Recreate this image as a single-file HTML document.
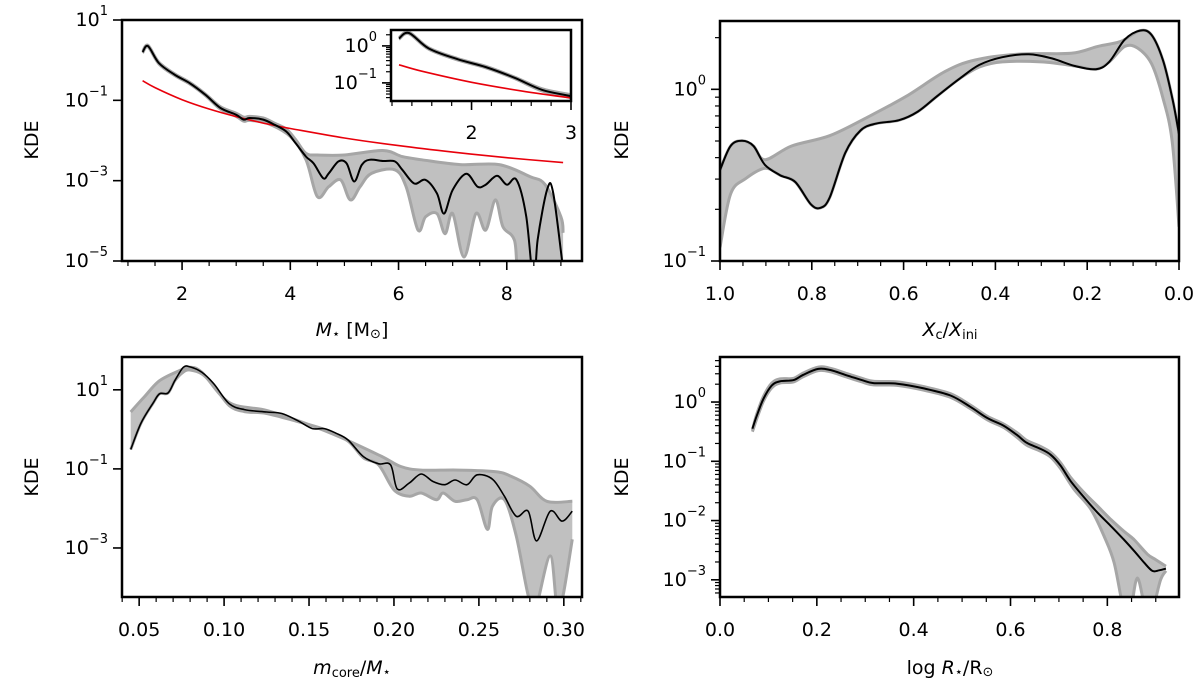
<!DOCTYPE html>
<html><head><meta charset="utf-8"><style>
html,body{margin:0;padding:0;background:#fff}
svg{display:block;font-family:"DejaVu Sans","Liberation Sans",sans-serif}
</style></head><body>
<svg id="fig" width="1200" height="688" viewBox="0 0 1200 688" xmlns="http://www.w3.org/2000/svg"></svg>
<script>
// ---------- Panel 1 data: stellar mass ----------
const p1BlackX=[1.27,1.37,1.57,1.86,2.14,2.43,2.71,3.0,3.14,3.25,3.5,3.71,3.93,4.1,4.29,4.43,4.61,4.71,4.89,5.04,5.18,5.32,5.46,5.71,5.93,6.07,6.29,6.5,6.71,6.84,7.0,7.25,7.46,7.61,7.82,8.0,8.18,8.36,8.5,8.57,8.75,8.86,9.04];
const p1BlackY=[0.2,0.35,-0.07,-0.36,-0.57,-0.86,-1.19,-1.36,-1.48,-1.44,-1.48,-1.61,-1.78,-2.07,-2.4,-2.57,-2.94,-2.82,-2.52,-2.57,-3.02,-2.61,-2.48,-2.51,-2.52,-2.73,-3.07,-2.98,-3.32,-3.82,-3.23,-2.83,-3.15,-3.1,-2.88,-3.1,-2.98,-3.9,-5.6,-4.48,-3.2,-3.32,-5.2];
const p1HiX=[1.27,1.37,1.57,1.86,2.14,2.43,2.71,3.0,3.14,3.25,3.5,3.71,3.93,4.1,4.29,4.5,5.0,5.71,6.07,6.43,7.14,7.86,8.43,8.71,9.0,9.04];
const p1HiY=[0.22,0.37,-0.05,-0.34,-0.55,-0.84,-1.16,-1.32,-1.42,-1.4,-1.44,-1.57,-1.72,-1.98,-2.32,-2.36,-2.36,-2.25,-2.4,-2.48,-2.6,-2.6,-2.9,-3.1,-3.9,-4.3];
const p1LoX=[1.27,1.37,1.57,1.86,2.14,2.43,2.71,3.0,3.14,3.25,3.57,4.0,4.29,4.5,4.71,4.93,5.11,5.29,5.5,5.93,6.14,6.36,6.5,6.71,6.86,7.0,7.21,7.43,7.61,7.79,7.93,8.14,8.29,9.04];
const p1LoY=[0.18,0.33,-0.09,-0.38,-0.59,-0.88,-1.22,-1.4,-1.52,-1.5,-1.57,-1.9,-2.48,-3.4,-3.15,-2.98,-3.48,-3.15,-2.82,-2.73,-3.15,-4.23,-3.9,-3.82,-4.32,-3.82,-4.9,-3.82,-4.23,-3.48,-4.15,-4.48,-5.5,-5.5];
const p1RedX=[1.27,1.5,2,2.5,3,3.5,4,5,6,7,8,9.04];
const p1RedY=[-0.51,-0.683,-0.983,-1.216,-1.405,-1.566,-1.7,-1.938,-2.128,-2.288,-2.428,-2.55];
const p1XTicks=[2,4,6,8];
const p1YTicks=[1,-1,-3,-5];
const insetXTicks=[2,3];
const insetYTicks=[0,-1];
// ---------- Panel 2 data: Xc/Xini ----------
const p2BlackX=[1.0,0.977,0.952,0.927,0.902,0.869,0.836,0.802,0.781,0.761,0.727,0.694,0.661,0.61,0.569,0.527,0.477,0.435,0.385,0.327,0.277,0.227,0.181,0.152,0.118,0.085,0.06,0.035,0.014,0.0];
const p2BlackY=[-0.47,-0.33,-0.30,-0.33,-0.44,-0.5,-0.54,-0.67,-0.69,-0.63,-0.37,-0.24,-0.2,-0.18,-0.13,-0.04,0.064,0.142,0.187,0.204,0.18,0.136,0.117,0.16,0.29,0.342,0.317,0.17,-0.06,-0.26];
const p2HiX=[1.0,0.977,0.952,0.927,0.902,0.844,0.761,0.677,0.594,0.51,0.444,0.344,0.235,0.177,0.135,0.118,0.085,0.06,0.035,0.014,0.0];
const p2HiY=[-0.47,-0.33,-0.30,-0.33,-0.41,-0.33,-0.27,-0.16,-0.04,0.103,0.171,0.206,0.21,0.25,0.272,0.29,0.342,0.317,0.17,-0.06,-0.26];
const p2LoX=[1.0,0.977,0.944,0.902,0.869,0.836,0.802,0.781,0.761,0.727,0.694,0.661,0.61,0.569,0.527,0.477,0.435,0.385,0.3,0.227,0.181,0.152,0.118,0.09,0.06,0.035,0.015,0.0];
const p2LoY=[-0.92,-0.61,-0.52,-0.46,-0.5,-0.54,-0.67,-0.69,-0.63,-0.37,-0.24,-0.2,-0.18,-0.13,-0.04,0.064,0.13,0.16,0.16,0.136,0.117,0.16,0.25,0.24,0.15,-0.05,-0.3,-0.8];
const p2XTicks=[1.0,0.8,0.6,0.4,0.2,0.0];
const p2XLabels=["1.0","0.8","0.6","0.4","0.2","0.0"];
const p2YTicks=[0,-1];
// ---------- Panel 3 data: m_core/M ----------
const p3BlackX=[0.045,0.051,0.058,0.062,0.067,0.071,0.076,0.08,0.087,0.094,0.103,0.112,0.125,0.134,0.143,0.152,0.159,0.166,0.173,0.182,0.191,0.198,0.202,0.209,0.216,0.223,0.23,0.236,0.243,0.249,0.258,0.265,0.272,0.279,0.284,0.292,0.299,0.305];
const p3BlackY=[-0.51,0.15,0.65,0.9,0.92,1.23,1.57,1.58,1.44,1.15,0.65,0.5,0.44,0.4,0.23,0.02,0.02,-0.1,-0.27,-0.69,-0.87,-0.9,-1.51,-1.36,-1.13,-1.32,-1.4,-1.28,-1.4,-1.15,-1.26,-1.69,-2.2,-2.07,-2.82,-2.07,-2.32,-2.07];
const p3HiX=[0.045,0.053,0.062,0.074,0.08,0.087,0.103,0.125,0.148,0.17,0.193,0.204,0.216,0.238,0.26,0.269,0.28,0.29,0.305];
const p3HiY=[0.44,0.82,1.23,1.49,1.57,1.44,0.68,0.48,0.15,-0.23,-0.69,-0.94,-1.03,-1.03,-1.07,-1.19,-1.44,-1.82,-1.82];
const p3LoX=[0.045,0.051,0.058,0.062,0.067,0.071,0.076,0.08,0.087,0.094,0.103,0.112,0.125,0.143,0.159,0.173,0.182,0.191,0.2,0.209,0.216,0.225,0.229,0.236,0.243,0.249,0.255,0.258,0.265,0.272,0.279,0.283,0.292,0.297,0.305];
const p3LoY=[-0.51,0.15,0.65,0.9,0.92,1.23,1.45,1.5,1.4,1.1,0.6,0.45,0.4,0.2,0.0,-0.3,-0.72,-0.9,-1.53,-1.69,-1.61,-1.78,-1.61,-1.82,-1.78,-1.78,-2.53,-1.94,-1.78,-2.7,-4.2,-4.6,-3.2,-4.6,-2.78];
const p3XTicks=[0.05,0.10,0.15,0.20,0.25,0.30];
const p3XLabels=["0.05","0.10","0.15","0.20","0.25","0.30"];
const p3YTicks=[1,-1,-3];
// ---------- Panel 4 data: log R ----------
const p4BlackX=[0.067,0.076,0.09,0.107,0.124,0.152,0.172,0.203,0.228,0.262,0.297,0.317,0.366,0.421,0.476,0.517,0.552,0.586,0.614,0.634,0.662,0.683,0.703,0.724,0.752,0.779,0.807,0.834,0.855,0.876,0.893,0.907,0.921];
const p4BlackY=[-0.45,-0.23,0.06,0.28,0.35,0.37,0.46,0.56,0.54,0.45,0.36,0.32,0.31,0.23,0.11,-0.08,-0.27,-0.4,-0.56,-0.69,-0.79,-0.89,-1.07,-1.33,-1.61,-1.86,-2.09,-2.32,-2.51,-2.71,-2.85,-2.84,-2.81];
const p4HiX=[0.067,0.076,0.09,0.107,0.124,0.152,0.172,0.203,0.228,0.262,0.297,0.317,0.366,0.421,0.476,0.517,0.552,0.586,0.614,0.634,0.662,0.683,0.703,0.724,0.752,0.779,0.807,0.834,0.855,0.883,0.9,0.921];
const p4HiY=[-0.47,-0.2,0.1,0.32,0.39,0.4,0.49,0.59,0.57,0.48,0.39,0.35,0.34,0.26,0.14,-0.05,-0.24,-0.37,-0.52,-0.65,-0.75,-0.85,-1.02,-1.27,-1.53,-1.75,-1.98,-2.18,-2.32,-2.57,-2.66,-2.77];
const p4LoX=[0.067,0.076,0.09,0.107,0.124,0.152,0.172,0.203,0.228,0.262,0.297,0.317,0.366,0.421,0.476,0.517,0.552,0.586,0.614,0.634,0.662,0.683,0.703,0.731,0.766,0.793,0.814,0.834,0.848,0.862,0.879,0.893,0.91,0.921];
const p4LoY=[-0.5,-0.28,0.02,0.24,0.32,0.34,0.43,0.53,0.51,0.42,0.33,0.29,0.28,0.2,0.08,-0.11,-0.3,-0.43,-0.6,-0.73,-0.83,-0.93,-1.12,-1.47,-1.81,-2.26,-2.71,-3.5,-3.5,-2.97,-3.5,-3.5,-3.0,-2.85];
const p4XTicks=[0.0,0.2,0.4,0.6,0.8];
const p4XLabels=["0.0","0.2","0.4","0.6","0.8"];
const p4YTicks=[0,-1,-2,-3];

const NS="http://www.w3.org/2000/svg";
const fig=document.getElementById('fig');
function mk(tag,attrs,parent){const e=document.createElementNS(NS,tag);for(const k in attrs)e.setAttribute(k,attrs[k]);(parent||fig).appendChild(e);return e;}
function smooth(p){if(!p.length)return'';let d=`M${p[0][0].toFixed(1)},${p[0][1].toFixed(1)}`;for(let i=0;i<p.length-1;i++){const p0=p[i-1]||p[i],p1=p[i],p2=p[i+1],p3=p[i+2]||p2;const c1=[p1[0]+(p2[0]-p0[0])/6,p1[1]+(p2[1]-p0[1])/6];const c2=[p2[0]-(p3[0]-p1[0])/6,p2[1]-(p3[1]-p1[1])/6];d+=`C${c1[0].toFixed(1)},${c1[1].toFixed(1)} ${c2[0].toFixed(1)},${c2[1].toFixed(1)} ${p2[0].toFixed(1)},${p2[1].toFixed(1)}`;}return d;}
let clipN=0;
function panel(c){
  const [L,T,R,B]=c.box;
  const sx=v=>L+(v-c.xlim[0])/(c.xlim[1]-c.xlim[0])*(R-L);
  const sy=v=>B-(v-c.ylim[0])/(c.ylim[1]-c.ylim[0])*(B-T);
  const g=mk('g',{});
  
  
  const id='clip'+(clipN++);
  const cp=mk('clipPath',{id},g);mk('rect',{x:L,y:T,width:R-L,height:B-T},cp);
  const plot=mk('g',{'clip-path':`url(#${id})`},g);
  const pts=(X,Y)=>X.map((x,i)=>[sx(x),sy(Y[i])]);
  if(c.hiX){
    const hi=pts(c.hiX,c.hiY),lo=pts(c.loX,c.loY);
    const band=mk('path',{d:smooth(hi)+smooth(lo.slice().reverse()).replace('M','L')+'Z',fill:'#c0c0c0',stroke:'none'},plot);
    
    
    const e1=mk('path',{d:smooth(hi),fill:'none',stroke:'#a6a6a6','stroke-width':3},plot);
    
    
    const e2=mk('path',{d:smooth(lo),fill:'none',stroke:'#a6a6a6','stroke-width':3},plot);
    
    
  }
  if(c.redX){
    const r=mk('path',{d:smooth(pts(c.redX,c.redY)),fill:'none',stroke:'#e8000b','stroke-width':1.6},plot);
    
    
  }
  const bl=mk('path',{d:smooth(pts(c.blackX,c.blackY)),fill:'none',stroke:'#000','stroke-width':c.lw||2},plot);
  
  
  const box=mk('rect',{x:L,y:T,width:R-L,height:B-T,fill:'none',stroke:'#000','stroke-width':c.bw||2.5},g);
  
  
  const fs=c.fs||19;
  c.xticks.forEach((v,i)=>{const x=sx(v);mk('line',{x1:x,x2:x,y1:B,y2:B+9,stroke:'#000','stroke-width':1.6},g);
    const t=mk('text',{x:x,y:B+(c.xlabOff||33),'text-anchor':'middle','dominant-baseline':'central','font-size':fs},g);
    t.textContent=c.xlabels?c.xlabels[i]:String(v);
    
    });
  const lo=Math.min(...c.xlim),hi=Math.max(...c.xlim);
  for(let v=Math.ceil(lo/c.xminor-1e-6)*c.xminor;v<=hi+1e-9;v+=c.xminor){if(c.xticks.some(t=>Math.abs(t-v)<1e-6))continue;const x=sx(v);mk('line',{x1:x,x2:x,y1:B,y2:B+5,stroke:'#000','stroke-width':1.2},g);}
  c.yticks.forEach(v=>{const y=sy(v);mk('line',{x1:L-9,x2:L,y1:y,y2:y,stroke:'#000','stroke-width':1.6},g);
    const t=mk('text',{x:L-14,y:y,'text-anchor':'end','dominant-baseline':'central','font-size':fs},g);
    
    
    const a=mk('tspan',{},t);a.textContent='10';
    const b=mk('tspan',{dy:-9,'font-size':Math.round(fs*0.7)},t);b.textContent=(v<0?'\u2212':'')+Math.abs(v);});
  if(c.yminor){for(let d=Math.floor(c.ylim[0]);d<=c.ylim[1];d++){for(let m=2;m<=9;m++){const lv=d+Math.log10(m);if(lv<c.ylim[0]||lv>c.ylim[1])continue;const y=sy(lv);mk('line',{x1:L-5,x2:L,y1:y,y2:y,stroke:'#000','stroke-width':1.2},g);}}}
}
function label(txt,x,y,rot,name){const t=mk('text',{x,y,'text-anchor':'middle','dominant-baseline':'central','font-size':19,transform:rot?`rotate(-90 ${x} ${y})`:''});t.innerHTML=txt;return t;}

panel({name:'mass-panel',box:[122,20,582,261],xlim:[0.89,9.39],ylim:[-5,1],blackX:p1BlackX,blackY:p1BlackY,hiX:p1HiX,hiY:p1HiY,loX:p1LoX,loY:p1LoY,redX:p1RedX,redY:p1RedY,xticks:p1XTicks,xminor:0.5,yticks:p1YTicks});
const inset=mk('rect',{x:391,y:30,width:180,height:71,fill:'#fff'});


panel({name:'mass-inset',box:[391,30,571,101],xlim:[1.19,3.0],ylim:[-1.49,0.43],blackX:p1BlackX,blackY:p1BlackY,hiX:p1HiX,hiY:p1HiY,loX:p1LoX,loY:p1LoY,redX:p1RedX,redY:p1RedY,xticks:insetXTicks,xminor:0.2,yticks:insetYTicks,yminor:true,xlabOff:32});
panel({name:'xc-panel',box:[720,21,1179,261],xlim:[1,0],ylim:[-1,0.398],blackX:p2BlackX,blackY:p2BlackY,hiX:p2HiX,hiY:p2HiY,loX:p2LoX,loY:p2LoY,xticks:p2XTicks,xlabels:p2XLabels,xminor:0.05,yticks:p2YTicks,yminor:true});
panel({name:'core-mass-panel',box:[122,357,582,597],xlim:[0.0399,0.3107],ylim:[-4.24,1.83],blackX:p3BlackX,blackY:p3BlackY,hiX:p3HiX,hiY:p3HiY,loX:p3LoX,loY:p3LoY,xticks:p3XTicks,xlabels:p3XLabels,xminor:0.01,yticks:p3YTicks,lw:1.6});
panel({name:'radius-panel',box:[720,357,1179,597],xlim:[0,0.948],ylim:[-3.29,0.76],blackX:p4BlackX,blackY:p4BlackY,hiX:p4HiX,hiY:p4HiY,loX:p4LoX,loY:p4LoY,xticks:p4XTicks,xlabels:p4XLabels,xminor:0.05,yticks:p4YTicks,yminor:true});

label('KDE',32,140,true,'y-axis-title-mass');
label('KDE',622,140,true,'y-axis-title-xc');
label('KDE',32,477,true,'y-axis-title-core');
label('KDE',622,477,true,'y-axis-title-radius');
label('<tspan font-style="italic">M</tspan><tspan font-size="13" dy="4">\u22c6</tspan><tspan dy="-4"> [M</tspan><tspan font-size="13" dy="4">\u2299</tspan><tspan dy="-4">]</tspan>',352,330,false,'x-axis-title-mass');
label('<tspan font-style="italic">X</tspan><tspan font-size="13" dy="5">c</tspan><tspan dy="-5">/</tspan><tspan font-style="italic">X</tspan><tspan font-size="13" dy="5">ini</tspan>',950,330,false,'x-axis-title-xc');
label('<tspan font-style="italic">m</tspan><tspan font-size="13" dy="5">core</tspan><tspan dy="-5">/</tspan><tspan font-style="italic">M</tspan><tspan font-size="13" dy="4">\u22c6</tspan>',352,668,false,'x-axis-title-core');
label('log <tspan font-style="italic">R</tspan><tspan font-size="13" dy="4">\u22c6</tspan><tspan dy="-4">/R</tspan><tspan font-size="13" dy="4">\u2299</tspan>',950,668,false,'x-axis-title-radius');
</script>
</body></html>
